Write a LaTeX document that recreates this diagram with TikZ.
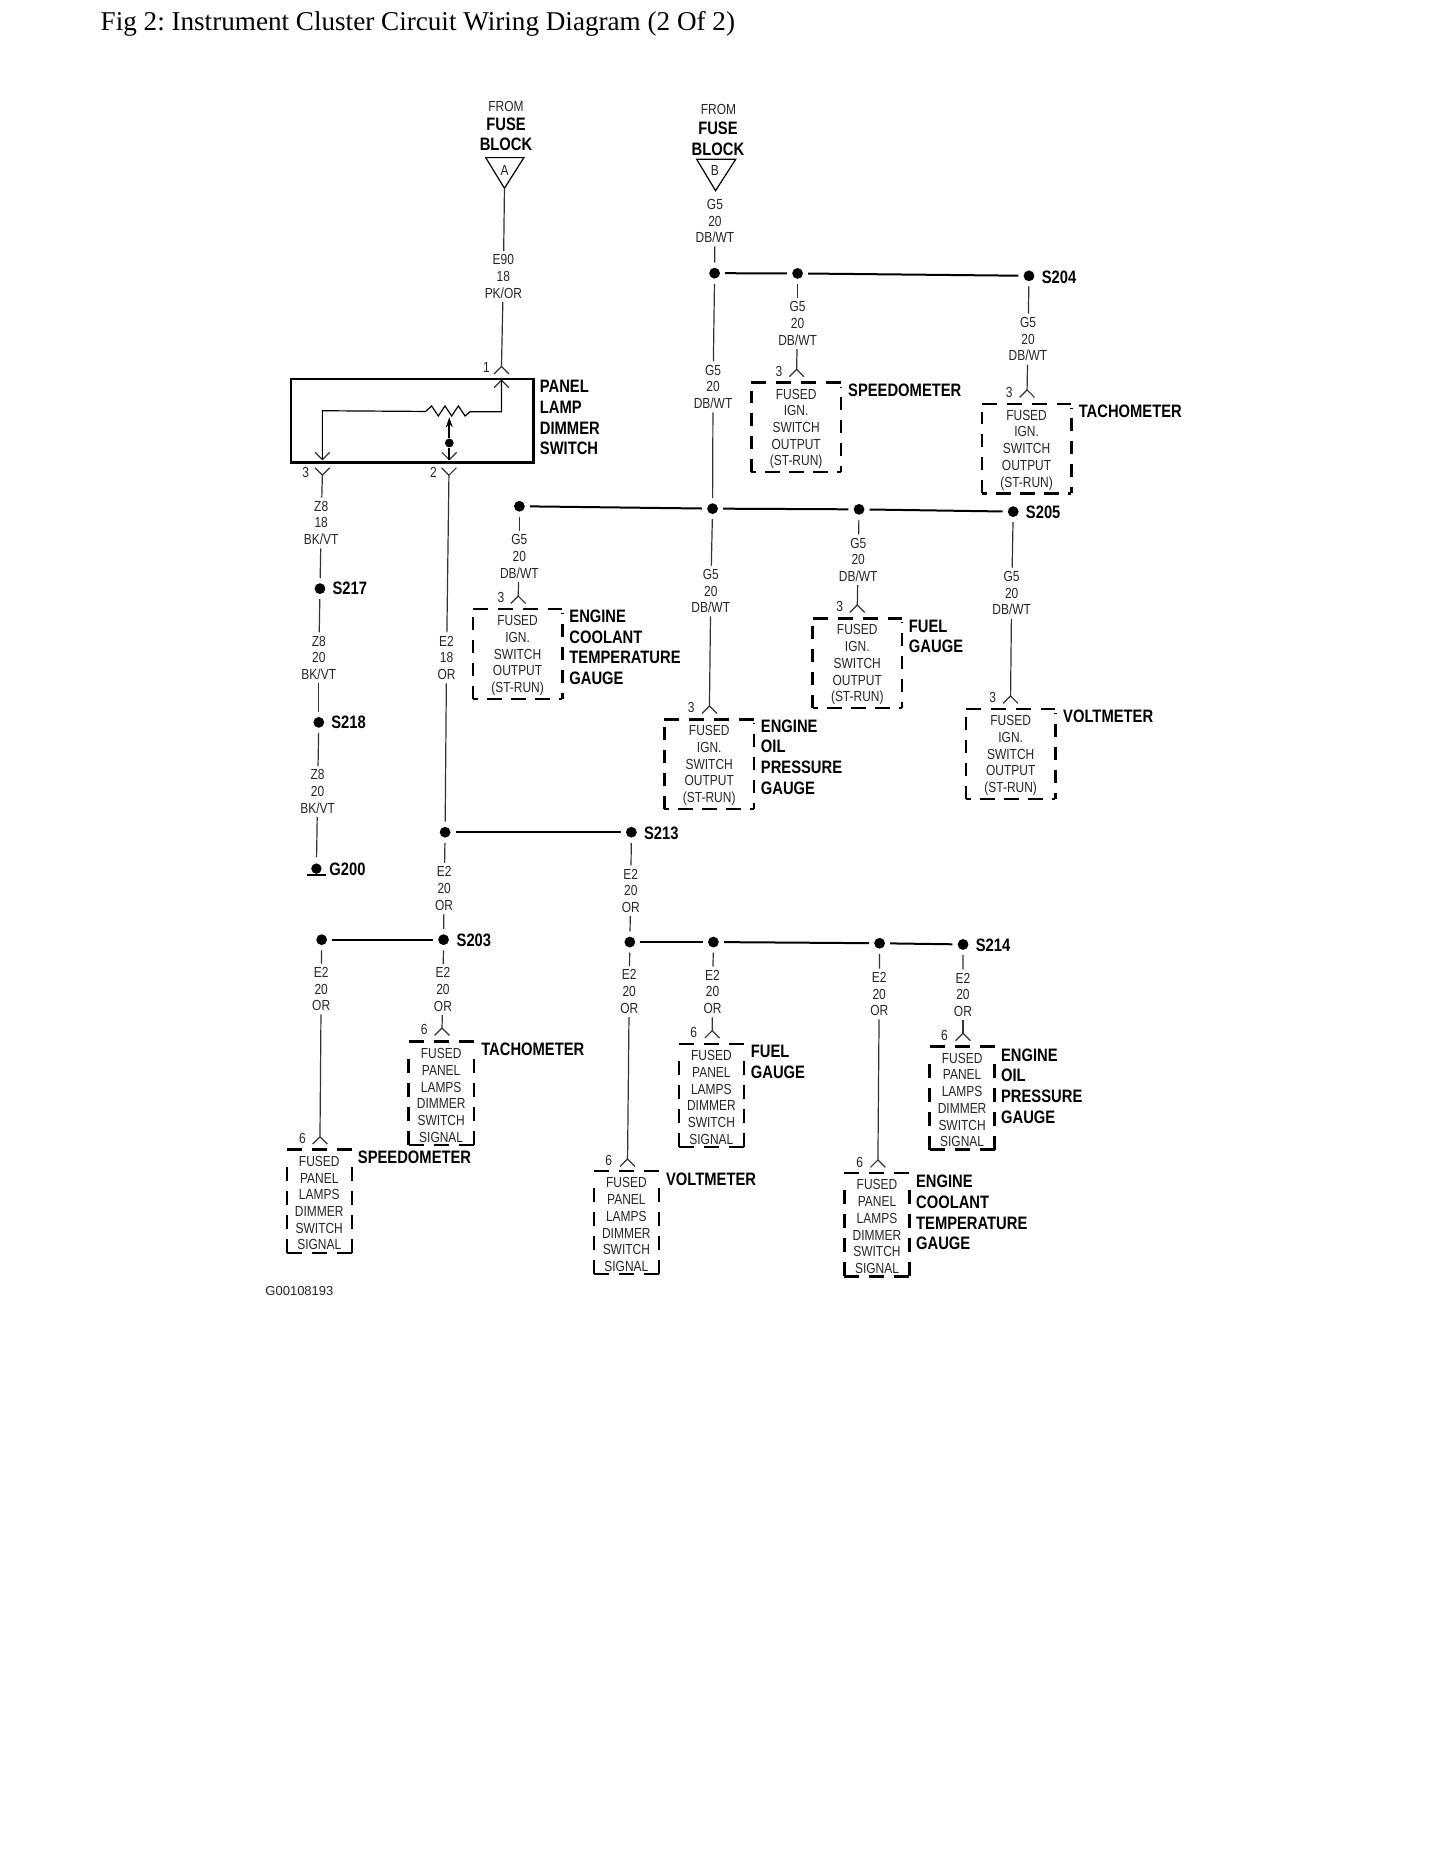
\documentclass[tikz,border=0pt]{standalone}
\usepackage{fontspec}
\usetikzlibrary{arrows.meta}
\setmainfont{Liberation Serif}
\newfontfamily\smf[FakeStretch=0.82]{Liberation Sans}
\newfontfamily\lblf[FakeStretch=0.82]{Liberation Sans}
\newfontfamily\idf{Liberation Sans}
\def\uu{0.597pt}
\tikzset{
 wire/.style={line width=0.6pt,draw=black!80},
 hw/.style={line width=1pt,draw=black},
 jn/.style={circle,fill=black,minimum size=5.4pt,inner sep=0pt,outer sep=2.6pt},
 wlab/.style={font=\smf\fontsize{7.3}{8.35}\selectfont,align=center,inner sep=0pt,outer sep=1.8pt,text=black!85},
 blab/.style={font=\lblf\bfseries\fontsize{9}{10.3}\selectfont,align=left,inner sep=0pt,anchor=west,xshift=-0.5pt},
 clab/.style={font=\lblf\bfseries\fontsize{9}{10.3}\selectfont,align=center,inner sep=0pt},
 dbox/.style={inner sep=0pt,outer sep=0pt,align=center,font=\smf\fontsize{7.3}{8.35}\selectfont,text=black!85},
 bigbox/.style={dbox,minimum width=75*\uu,minimum height=75*\uu},
 smallbox/.style={dbox,minimum width=54.5*\uu,minimum height=86.5*\uu},
 dl/.style={line width=1.2pt,draw=black},
 dtop/.style={dl,dash pattern=on 7.5pt off 5pt},
 dbot/.style={dl,dash pattern=on 7.5pt off 4.5pt,dash phase=5pt},
 dsideb/.style={dl,dash pattern=on 6.5pt off 5pt},
 dsiderb/.style={dl,dash pattern=on 6.5pt off 5pt,dash phase=3.5pt},
 dsides/.style={dl,dash pattern=on 7pt off 5pt},
 pinno/.style={font=\smf\fontsize{7.3}{8.35}\selectfont,inner sep=0pt,text=black!85},
 swbox/.style={draw=black,line width=1.2pt,inner sep=0pt,outer sep=0pt,minimum width=203*\uu,minimum height=70*\uu},
 tri/.style={line width=0.6pt,draw=black}
}
\newcommand{\wl}[6]{\node[wlab] (#1) at (#2,#3) {#4\\#5\\#6};}
\newcommand{\jun}[3]{\node[jn] (#1) at (#2,#3) {};}
\newcommand{\pinup}[3]{\coordinate (#1) at (#2,#3); \draw[wire] (#1) -- ++(-6.2,6.2) (#1) -- ++(6.2,6.2);}
\newcommand{\pindn}[3]{\coordinate (#1) at (#2,#3); \draw[wire] (#1) -- ++(-6.2,-6.2) (#1) -- ++(6.2,-6.2);}
\newcommand{\five}{\rule{0pt}{6.6pt}FUSED\\IGN.\\SWITCH\\OUTPUT\\(ST-RUN)}
\newcommand{\six}{\rule{0pt}{7.1pt}FUSED\\PANEL\\LAMPS\\DIMMER\\SWITCH\\SIGNAL}
\newcommand{\bbx}[1]{%
 \draw[dtop] (#1.north west) -- (#1.north east);
 \draw[dbot] (#1.south west) -- (#1.south east);
 \draw[dsideb] (#1.south west) -- ([yshift=-4pt]#1.north west);
 \draw[dsiderb] (#1.south east) -- ([yshift=-2pt]#1.north east);}
\newcommand{\sbx}[1]{%
 \draw[dtop] (#1.north west) -- (#1.north east);
 \draw[dtop] (#1.south west) -- (#1.south east);
 \draw[dsides] (#1.south west) -- ([yshift=-4pt]#1.north west);
 \draw[dsides] (#1.south east) -- ([yshift=-4pt]#1.north east);}
\frenchspacing
\begin{document}
\begin{tikzpicture}[x=0.597pt,y=-0.597pt]
\useasboundingbox (0,0) rectangle (1210.25,1566.2);
\fill[white] (0,0) rectangle (1210.25,1566.2);
\node[anchor=base west,inner sep=0pt,font=\fontsize{13.57}{15}\selectfont] (title) at (84,25.5) {Fig 2: Instrument Cluster Circuit Wiring Diagram (2 Of 2)};

% ---- fuse block A
\node[pinno] (froma) at (423.8,88.8) {FROM};
\node[clab] (fusea) at (423.8,112.5) {FUSE\\BLOCK};
\coordinate (ta1) at (406.8,132); \coordinate (ta2) at (438.8,132); \coordinate (fa) at (422.5,157.7);
\draw[tri] (ta1) -- (ta2) -- (fa) -- cycle;
\node[pinno] (la) at (422.6,142.6) {A};
\wl{le90}{421.6}{231.7}{E90}{18}{PK/OR}
\pinup{p1}{420}{307}
\draw[wire] (fa) -- (le90);
\draw[wire] (le90) -- (p1);
\node[pinno] (n1) at (407.5,308) {1};

% ---- dimmer switch
\node[swbox] (sw) at (345.2,352.2) {};
\node[blab] (swl) at (452.7,349.9) {PANEL\\LAMP\\DIMMER\\SWITCH};
\pinup{pi1}{420}{318.5}
\coordinate (rr) at (393.7,344.8); \coordinate (rl) at (356.5,344.6);
\coordinate (c1) at (420,344.8); \coordinate (c3) at (270,344);
\pindn{pi3}{270}{385}
\pindn{pi2}{376.3}{385}
\draw[wire,draw=black] (pi1) -- (c1) -- (rr) -- (389.5,348.4) -- (383.9,340) -- (378.3,348.4) -- (372.7,340) -- (367.1,348.4) -- (361.5,340) -- (rl) -- (c3) -- (pi3);
\node[circle,fill=black,minimum size=4.4pt,inner sep=0pt] (wip) at (376.3,371) {};
\coordinate (wt) at (376.3,349.5);
\draw[line width=0.9pt,-{Stealth[length=5pt,width=3.4pt]}] (wip) -- (wt);
\draw[line width=0.9pt] (wip) -- (pi2);

% left branch
\pindn{p3}{270}{398}
\node[pinno] (n3) at (256,396) {3};
\wl{lz1}{269}{438}{Z8}{18}{BK/VT}
\draw[wire] (p3) -- (lz1);
\jun{s217}{268}{493}
\node[blab] (ls217) at (279,493) {S217};
\draw[wire] (lz1) -- (s217);
\wl{lz2}{267}{551}{Z8}{20}{BK/VT}
\draw[wire] (s217) -- (lz2);
\jun{s218}{267}{605}
\node[blab] (ls218) at (278,605) {S218};
\draw[wire] (lz2) -- (s218);
\wl{lz3}{266}{663}{Z8}{20}{BK/VT}
\draw[wire] (s218) -- (lz3);
\begin{scope}
\clip (250,715) rectangle (280,733);
\node[circle,fill=black,minimum size=5.2pt,inner sep=0pt,outer sep=3pt] (g200) at (265,727.5) {};
\end{scope}
\coordinate (gb1) at (257,732.8); \coordinate (gb2) at (273,732.8);
\draw[line width=0.9pt] (gb1) -- (gb2);
\node[blab] (lg200) at (276.4,728) {G200};
\draw[wire] (lz3) -- (g200);

% centre branch
\pindn{p2}{376}{398}
\node[pinno] (n2) at (363,396) {2};
\wl{le18}{374}{551}{E2}{18}{OR}
\draw[wire] (p2) -- (le18);
\jun{ja}{372.8}{697}
\draw[wire] (le18) -- (ja);
\jun{s213}{528.8}{697}
\node[blab] (ls213) at (540,698) {S213};
\draw[hw] (ja) -- (s213);
\wl{le2a}{372}{744}{E2}{20}{OR}
\draw[wire] (ja) -- (le2a);
\jun{s203}{371.5}{787}
\node[blab] (ls203) at (383,787.6) {S203};
\draw[wire] (le2a) -- (s203);
\jun{jb}{269.4}{787}
\draw[hw] (jb) -- (s203);

% speedometer E2
\wl{lsp}{269}{828.3}{E2}{20}{OR}
\draw[wire] (jb) -- (lsp);
\pinup{psp}{268}{952}
\draw[wire] (lsp) -- (psp);
\node[pinno] (n6a) at (253.4,953.5) {6};
\node[smallbox] (bsp) at (267.4,1006) {\six};
\sbx{bsp}
\node[blab] (lbsp) at (300.3,969.3) {SPEEDOMETER};

% tachometer E2
\wl{lta}{371}{828.8}{E2}{20}{OR}
\draw[wire] (s203) -- (lta);
\pinup{pta}{370.2}{861}
\draw[wire] (lta) -- (pta);
\node[pinno] (n6b) at (355.3,862.5) {6};
\node[smallbox] (bta) at (369.5,915.7) {\six};
\sbx{bta}
\node[blab] (lbta) at (403.6,879) {TACHOMETER};

% S213 down
\wl{le2b}{528.3}{746}{E2}{20}{OR}
\draw[wire] (s213) -- (le2b);
\jun{jc}{527.5}{789}
\draw[wire] (le2b) -- (jc);
\jun{jd}{597.5}{789}
\jun{je}{736.7}{790}
\jun{s214}{806.6}{791}
\node[blab] (ls214) at (817.8,792) {S214};
\draw[hw] (jc) -- (jd);
\draw[hw] (jd) -- (je);
\draw[hw] (je) -- (s214);

% voltmeter E2
\wl{lvo}{527}{830.5}{E2}{20}{OR}
\draw[wire] (jc) -- (lvo);
\pinup{pvo}{525.6}{970.7}
\draw[wire] (lvo) -- (pvo);
\node[pinno] (n6c) at (509.8,972) {6};
\node[smallbox] (bvo) at (524.6,1024) {\six};
\sbx{bvo}
\node[blab] (lbvo) at (558.4,987.5) {VOLTMETER};

% fuel E2
\wl{lfu}{596.8}{830.8}{E2}{20}{OR}
\draw[wire] (jd) -- (lfu);
\pinup{pfu}{596.5}{863.2}
\draw[wire] (lfu) -- (pfu);
\node[pinno] (n6d) at (581,865) {6};
\node[smallbox] (bfu) at (595.8,917.4) {\six};
\sbx{bfu}
\node[blab] (lbfu) at (629.4,889.4) {FUEL\\GAUGE};

% coolant E2
\wl{lco}{736.4}{832.5}{E2}{20}{OR}
\draw[wire] (je) -- (lco);
\pinup{pco}{735.3}{971.5}
\draw[wire] (lco) -- (pco);
\node[pinno] (n6e) at (720,974) {6};
\node[smallbox] (bco) at (734.5,1025.7) {\six};
\sbx{bco}
\node[blab] (lbco) at (767.8,1015.6) {ENGINE\\COOLANT\\TEMPERATURE\\GAUGE};

% oil E2
\wl{lop}{806.5}{833.2}{E2}{20}{OR}
\draw[wire] (s214) -- (lop);
\pinup{pop}{806.5}{865.4}
\draw[wire] (lop) -- (pop);
\node[pinno] (n6f) at (791,867.5) {6};
\node[smallbox] (bop) at (805.8,919.6) {\six};
\sbx{bop}
\node[blab] (lbop) at (839,909.6) {ENGINE\\OIL\\PRESSURE\\GAUGE};

% ---- fuse block B
\node[pinno] (fromb) at (601.8,92.1) {FROM};
\node[clab] (fuseb) at (601.3,116) {FUSE\\BLOCK};
\coordinate (tb1) at (583.5,133.4); \coordinate (tb2) at (616.2,133.4); \coordinate (fb) at (599.3,159.7);
\draw[tri] (tb1) -- (tb2) -- (fb) -- cycle;
\node[pinno] (lb) at (598.8,143) {B};
\wl{lg1}{598.8}{185.1}{G5}{20}{DB/WT}
\jun{j1}{598.5}{228.8}
\draw[wire] (lg1) -- (j1);
\jun{j2}{668}{229}
\jun{s204}{861.8}{231}
\node[blab] (ls204) at (873,232) {S204};
\draw[hw] (j1) -- (j2);
\draw[hw] (j2) -- (s204);

% speedometer G5
\wl{lg2}{668}{271}{G5}{20}{DB/WT}
\draw[wire] (j2) -- (lg2);
\pinup{psg}{667.2}{309.3}
\draw[wire] (lg2) -- (psg);
\node[pinno] (n3a) at (652.5,310.7) {3};
\node[bigbox] (bsg) at (666.8,358) {\five};
\bbx{bsg}
\node[blab] (lbsg) at (710.9,326.6) {SPEEDOMETER};

% tachometer G5
\wl{lg3}{861}{284}{G5}{20}{DB/WT}
\draw[wire] (s204) -- (lg3);
\pinup{ptg}{860.2}{326.6}
\draw[wire] (lg3) -- (ptg);
\node[pinno] (n3b) at (845.3,328.3) {3};
\node[bigbox] (btg) at (859.8,375.7) {\five};
\bbx{btg}
\node[blab] (lbtg) at (904,344.3) {TACHOMETER};

% trunk
\wl{lg4}{597.2}{324}{G5}{20}{DB/WT}
\draw[wire] (j1) -- (lg4);
\jun{j3}{596.8}{426}
\draw[wire] (lg4) -- (j3);
\jun{j4}{435}{424}
\jun{j5}{719.5}{426.6}
\jun{s205}{848.6}{428.5}
\node[blab] (ls205) at (859.8,429) {S205};
\draw[hw] (j4) -- (j3);
\draw[hw] (j3) -- (j5);
\draw[hw] (j5) -- (s205);

% coolant G5
\wl{lg5}{435}{466}{G5}{20}{DB/WT}
\draw[wire] (j4) -- (lg5);
\pinup{pcg}{434}{499.2}
\draw[wire] (lg5) -- (pcg);
\node[pinno] (n3c) at (419.5,500) {3};
\node[bigbox] (bcg) at (433.5,547.8) {\five};
\bbx{bcg}
\node[blab] (lbcg) at (477.4,542) {ENGINE\\COOLANT\\TEMPERATURE\\GAUGE};

% oil G5
\wl{lg6}{595.3}{495}{G5}{20}{DB/WT}
\draw[wire] (j3) -- (lg6);
\pinup{pog}{594.2}{591.3}
\draw[wire] (lg6) -- (pog);
\node[pinno] (n3d) at (579,592.5) {3};
\node[bigbox] (bog) at (594,640) {\five};
\bbx{bog}
\node[blab] (lbog) at (637.8,634) {ENGINE\\OIL\\PRESSURE\\GAUGE};

% fuel G5
\wl{lg7}{718.8}{468.8}{G5}{20}{DB/WT}
\draw[wire] (j5) -- (lg7);
\pinup{pfg}{718}{506.7}
\draw[wire] (lg7) -- (pfg);
\node[pinno] (n3e) at (703.3,507.8) {3};
\node[bigbox] (bfg) at (718,555.5) {\five};
\bbx{bfg}
\node[blab] (lbfg) at (761.8,533) {FUEL\\GAUGE};

% voltmeter G5
\wl{lg8}{847.3}{496.8}{G5}{20}{DB/WT}
\draw[wire] (s205) -- (lg8);
\pinup{pvg}{846.4}{582.9}
\draw[wire] (lg8) -- (pvg);
\node[pinno] (n3f) at (831.5,584.5) {3};
\node[bigbox] (bvg) at (846.5,631.5) {\five};
\bbx{bvg}
\node[blab] (lbvg) at (891,600.2) {VOLTMETER};

\node[anchor=west,inner sep=0pt,font=\idf\fontsize{6.5}{8}\selectfont,text=black!85] (gid) at (222,1081.5) {G00108193};
\end{tikzpicture}
\end{document}
